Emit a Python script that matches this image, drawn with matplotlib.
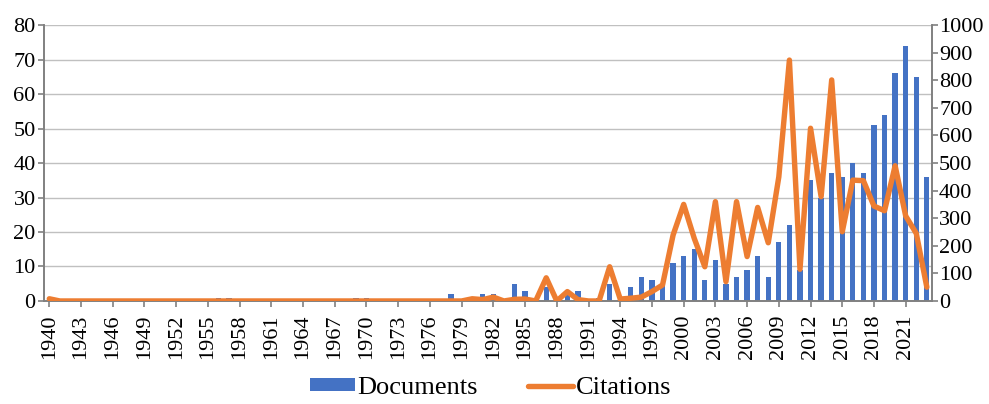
import matplotlib.pyplot as plt
import numpy as np

years = list(range(1940, 2024))

# documents per year (left axis)
doc_vals = {
    1956: 1, 1957: 1, 1969: 1, 1970: 1,
    1978: 2, 1981: 2, 1982: 2, 1984: 5, 1985: 3, 1987: 4, 1989: 2, 1990: 3,
    1992: 1, 1993: 5, 1995: 4, 1996: 7, 1997: 6, 1998: 5, 1999: 11,
    2000: 13, 2001: 15, 2002: 6, 2003: 12, 2004: 5, 2005: 7, 2006: 9,
    2007: 13, 2008: 7, 2009: 17, 2010: 22, 2011: 9, 2012: 35, 2013: 30,
    2014: 37, 2015: 36, 2016: 40, 2017: 37, 2018: 51, 2019: 54, 2020: 66,
    2021: 74, 2022: 65, 2023: 36,
}

# citations per year (right axis)
cit_vals = {
    1940: 8, 1980: 8, 1981: 5, 1982: 14, 1984: 6, 1985: 7, 1987: 84,
    1989: 34, 1990: 5, 1993: 124, 1994: 7, 1995: 10, 1996: 14, 1997: 34,
    1998: 58, 1999: 239, 2000: 350, 2001: 227, 2002: 124, 2003: 360,
    2004: 70, 2005: 360, 2006: 161, 2007: 339, 2008: 211, 2009: 450,
    2010: 873, 2011: 115, 2012: 626, 2013: 378, 2014: 801, 2015: 251,
    2016: 438, 2017: 436, 2018: 344, 2019: 327, 2020: 490, 2021: 308,
    2022: 245, 2023: 50,
}

documents = [doc_vals.get(y, 0) for y in years]
citations = [cit_vals.get(y, 0) for y in years]

plt.rcParams['font.family'] = ['Liberation Serif', 'DejaVu Serif']

fig = plt.figure(figsize=(9.89, 4.04), dpi=100)
ax = fig.add_axes([0.0445, 0.255, 0.898, 0.683])
ax2 = ax.twinx()

x = np.arange(len(years))
grid_c = '#c0c0c0'
axis_c = '#808080'

ax.bar(x, documents, width=0.5, color='#4472C4', label='Documents', zorder=2)
ax2.plot(x, citations, color='#ED7D31', lw=3.9, label='Citations',
         solid_joinstyle='round', solid_capstyle='round', zorder=3)

ax.set_ylim(0, 80)
ax.set_yticks(range(0, 81, 10))
ax2.set_ylim(0, 1000)
ax2.set_yticks(range(0, 1001, 100))
ax.set_xlim(-0.5, len(years) - 0.5)
ax.set_xticks(x[::3])
ax.set_xticklabels([str(y) for y in years[::3]], rotation=90)

ax.grid(axis='y', color=grid_c, lw=1, zorder=0)
ax.set_axisbelow(True)

for a in (ax, ax2):
    a.spines['top'].set_visible(False)
    for s in ('left', 'right', 'bottom'):
        a.spines[s].set_color(axis_c)
        a.spines[s].set_linewidth(1.2)
    a.tick_params(colors=axis_c, labelcolor='black', labelsize=16,
                  length=4, width=1.2, direction='out')
ax.tick_params(axis='y', pad=2)
ax.tick_params(axis='x', pad=6)
ax2.tick_params(axis='y', pad=1)

h1, l1 = ax.get_legend_handles_labels()
h2, l2 = ax2.get_legend_handles_labels()
fig.legend(h1 + h2, l1 + l2, loc='center', bbox_to_anchor=(0.496, 0.04),
           ncol=2, frameon=False, fontsize=19, handlelength=1.7,
           handleheight=0.4, handletextpad=0.1, columnspacing=1.9,
           borderpad=0.1)

fig.savefig('out.png', dpi=100)
